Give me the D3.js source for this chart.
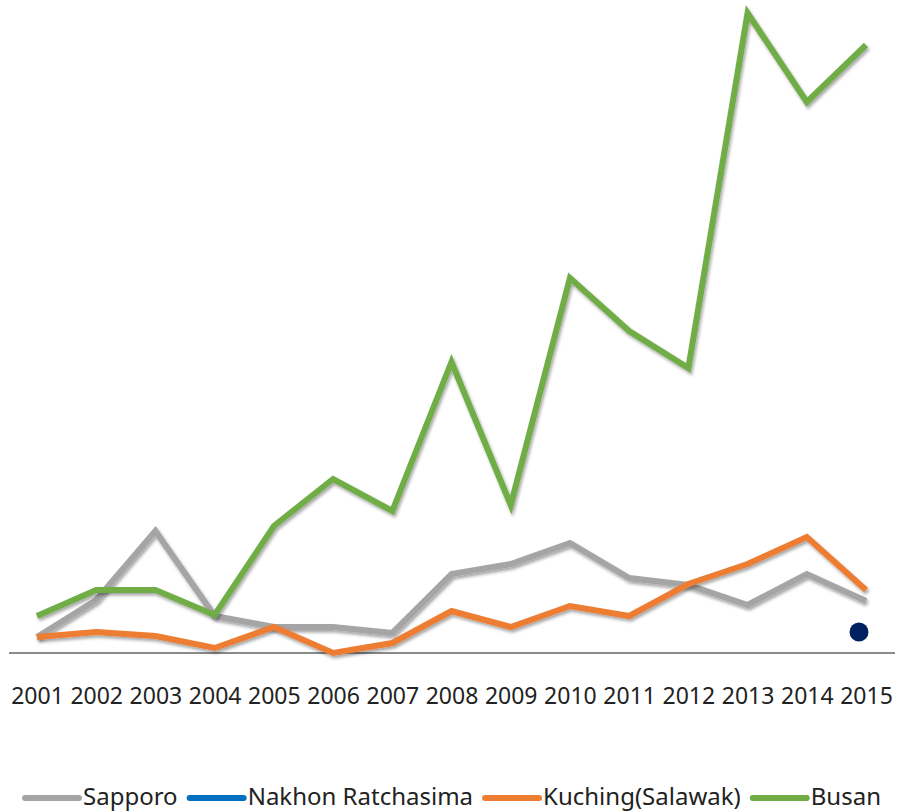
<!DOCTYPE html>
<html>
<head>
<meta charset="UTF-8">
<title>Chart</title>
<script src="https://cdn.jsdelivr.net/npm/d3@7"></script>
<style>
  body { margin: 0; background: #fff; }
  text { font-family: "Noto Sans", sans-serif; fill: #222; }
</style>
</head>
<body>
<script>
// data (arbitrary units)
var years = ["2001","2002","2003","2004","2005","2006","2007","2008","2009","2010","2011","2012","2013","2014","2015"];
var sapporo = [16, 53, 122, 37, 26, 26, 20, 79, 89, 110, 75, 68, 48, 79, 52];
var nakhon  = [null, null, null, null, null, null, null, null, null, null, null, null, null, null, 21];
var kuching = [16, 21, 17, 5, 26, 0, 10, 42, 26, 47, 37, 69, 89, 116, 63];
var busan   = [37, 63, 63, 38, 127, 174, 142, 291, 148, 375, 322, 285, 640, 551, 608];

var seriesNames  = ["Sapporo", "Nakhon Ratchasima", "Kuching(Salawak)", "Busan"];
var seriesValues = [sapporo, nakhon, kuching, busan];
var seriesColors = ["#a5a5a5", "#0070c0", "#ed7d31", "#70ad47"];

var width = 909, height = 812;

var svg = d3.select("body").append("svg")
    .attr("width", width)
    .attr("height", height);

// soft shadow under the lines
var defs = svg.append("defs");
var f = defs.append("filter").attr("id", "shadow")
    .attr("x", "-5%").attr("y", "-5%").attr("width", "110%").attr("height", "120%");
f.append("feDropShadow")
    .attr("dx", 1.5).attr("dy", 2.5).attr("stdDeviation", 1.8)
    .attr("flood-color", "#000").attr("flood-opacity", 0.35);

var x = d3.scalePoint().domain(years).range([37, 866]);
var y = d3.scaleLinear().domain([0, 640]).range([653, 13]);

// baseline
svg.append("line")
    .attr("x1", 9).attr("x2", 895)
    .attr("y1", y(0)).attr("y2", y(0))
    .attr("stroke", "#8a8a8a").attr("stroke-width", 2);

// year labels
var xAxis = d3.axisBottom(x).tickSize(0).tickPadding(0);
var ax = svg.append("g")
    .attr("transform", "translate(0," + 688 + ")")
    .call(xAxis);
ax.select(".domain").remove();
ax.selectAll("text")
    .style("font-family", "'Noto Sans', sans-serif")
    .style("font-size", "23px")
    .attr("fill", "#222");

var line = d3.line()
    .defined(function(d) { return d != null; })
    .x(function(d, i) { return x(years[i]); })
    .y(function(d) { return y(d); });

var lines = svg.append("g");
seriesValues.forEach(function(vals, k) {
    lines.append("path")
        .datum(vals)
        .attr("d", line)
        .attr("fill", "none")
        .attr("stroke", seriesColors[k])
        .attr("stroke-width", 6)
        .attr("stroke-linejoin", "miter")
        .attr("filter", "url(#shadow)");
});

// single Nakhon Ratchasima point
svg.append("circle")
    .attr("cx", x("2015") - 7)
    .attr("cy", y(nakhon[14]))
    .attr("r", 9.5)
    .attr("fill", "#002060");

// legend
var legend = svg.append("g").attr("transform", "translate(0,798)");
var cx = 25;
seriesNames.forEach(function(name, k) {
    legend.append("line")
        .attr("x1", cx).attr("x2", cx + 54)
        .attr("y1", 0).attr("y2", 0)
        .attr("stroke", seriesColors[k])
        .attr("stroke-width", 6)
        .attr("stroke-linecap", "round");
    var t = legend.append("text")
        .attr("x", cx + 58)
        .attr("y", 7)
        .style("font-size", "24px")
        .text(name);
    cx += 58 + t.node().getComputedTextLength() + 12;
});
</script>
</body>
</html>
